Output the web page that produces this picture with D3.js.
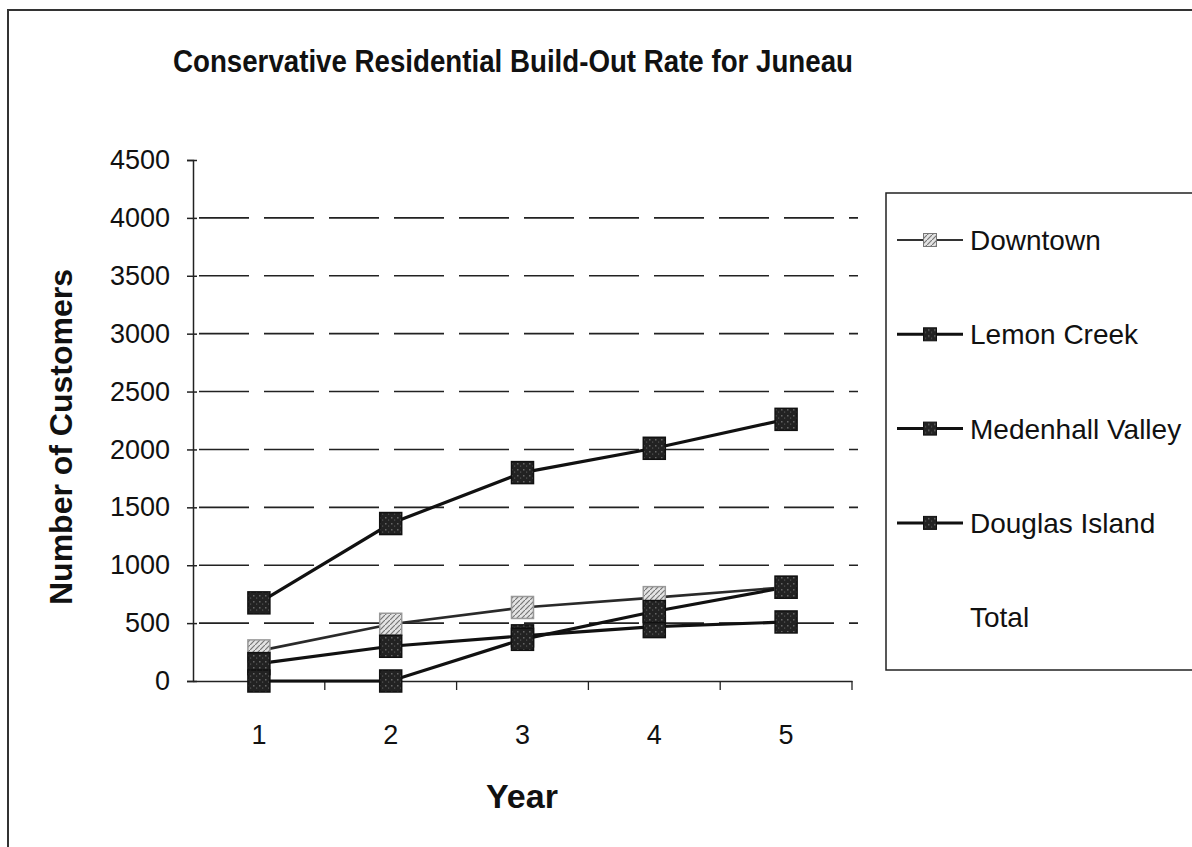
<!DOCTYPE html>
<html>
<head>
<meta charset="utf-8">
<script src="https://cdn.jsdelivr.net/npm/d3@7"></script>
<style>
  html, body { margin: 0; padding: 0; background: #fff; }
  text { font-family: 'Liberation Sans', Arial, sans-serif; fill: #111; }
</style>
</head>
<body>
<div id="chart"></div>
<script>
const width = 1192;
const height = 847;

// data
const years = [1, 2, 3, 4, 5];
const downtown = [260, 490, 635, 720, 810];
const lemonCreek = [150, 300, 390, 470, 510];
const medenhallValley = [675, 1360, 1800, 2010, 2260];
const douglasIsland = [0, 0, 360, 600, 810];
const yTicks = [0, 500, 1000, 1500, 2000, 2500, 3000, 3500, 4000, 4500];
const gridValues = [500, 1000, 1500, 2000, 2500, 3000, 3500, 4000];
const legendNames = ['Downtown', 'Lemon Creek', 'Medenhall Valley', 'Douglas Island', 'Total'];

const series = [
  { name: 'Downtown', values: downtown, light: true },
  { name: 'Lemon Creek', values: lemonCreek, light: false },
  { name: 'Medenhall Valley', values: medenhallValley, light: false },
  { name: 'Douglas Island', values: douglasIsland, light: false }
];

const PLOT_LEFT = 193;
const PLOT_RIGHT = 852;
const PLOT_TOP = 160;
const PLOT_BOTTOM = 681;
const MARKER = 22;
const LEGEND_MARKER = 13;
const FONT = "'Liberation Sans', Arial, sans-serif";

const svg = d3.select('#chart')
  .append('svg')
  .attr('width', width)
  .attr('height', height);

// textures for the scanned-looking markers
const defs = svg.append('defs');
const dark = defs.append('pattern')
  .attr('id', 'dark-tex')
  .attr('width', 6).attr('height', 6)
  .attr('patternUnits', 'userSpaceOnUse');
dark.append('rect').attr('width', 6).attr('height', 6).attr('fill', '#222');
dark.append('rect').attr('x', 1).attr('y', 1).attr('width', 1.5).attr('height', 1.5).attr('fill', '#666');
dark.append('rect').attr('x', 4).attr('y', 3.5).attr('width', 1.2).attr('height', 1.2).attr('fill', '#555');

const light = defs.append('pattern')
  .attr('id', 'light-tex')
  .attr('width', 5).attr('height', 5)
  .attr('patternUnits', 'userSpaceOnUse');
light.append('rect').attr('width', 5).attr('height', 5).attr('fill', '#e4e4e4');
light.append('path').attr('d', 'M0,5 L5,0').attr('stroke', '#777').attr('stroke-width', 1.2);

// outer frame (only left and top edges fall inside the picture)
svg.append('rect')
  .attr('x', 8).attr('y', 10)
  .attr('width', 1200).attr('height', 850)
  .attr('fill', 'none')
  .attr('stroke', '#333')
  .attr('stroke-width', 2);

const x = d3.scaleBand()
  .domain(years)
  .range([PLOT_LEFT, PLOT_RIGHT])
  .padding(0);

const y = d3.scaleLinear()
  .domain([0, 4500])
  .range([PLOT_BOTTOM, PLOT_TOP]);

const cx = (d) => x(d) + x.bandwidth() / 2;

// dashed gridlines
svg.append('g')
  .selectAll('line')
  .data(gridValues)
  .enter().append('line')
    .attr('x1', PLOT_LEFT + 6)
    .attr('x2', 858)
    .attr('y1', (d) => y(d))
    .attr('y2', (d) => y(d))
    .attr('stroke', '#222')
    .attr('stroke-width', 1.6)
    .attr('stroke-dasharray', '50,15');

// y axis
const yAxis = svg.append('g')
  .attr('transform', `translate(${PLOT_LEFT},0)`)
  .call(d3.axisLeft(y).tickValues(yTicks).tickFormat(d3.format('d')).tickSize(6).tickPadding(17));
yAxis.select('.domain').attr('stroke', '#222').attr('stroke-width', 1.5);
yAxis.selectAll('.tick line').attr('x1', 4).attr('stroke', '#222').attr('stroke-width', 1.5);
yAxis.selectAll('.tick text')
  .style('font-size', '27px')
  .style('font-family', FONT)
  .attr('fill', '#111');

// x axis (labels centred in bands, ticks on band edges)
const xAxis = svg.append('g')
  .attr('transform', `translate(0,${PLOT_BOTTOM})`)
  .call(d3.axisBottom(x).tickSize(0).tickPadding(44));
xAxis.select('.domain').attr('stroke', '#222').attr('stroke-width', 1.5);
xAxis.selectAll('.tick text')
  .style('font-size', '27px')
  .style('font-family', FONT)
  .attr('fill', '#111');
xAxis.selectAll('.edge')
  .data(years.map((d) => x(d) + x.bandwidth()))
  .enter().append('line')
    .attr('class', 'edge')
    .attr('x1', (d) => d).attr('x2', (d) => d)
    .attr('y1', 0).attr('y2', 9)
    .attr('stroke', '#222')
    .attr('stroke-width', 1.3);

// lines
const line = d3.line()
  .x((d, i) => cx(years[i]))
  .y((d) => y(d));

svg.append('g')
  .selectAll('path')
  .data(series)
  .enter().append('path')
    .attr('d', (s) => line(s.values))
    .attr('fill', 'none')
    .attr('stroke', (s) => s.light ? '#2a2a2a' : '#111')
    .attr('stroke-width', (s) => s.light ? 2.6 : 3.2);

// markers
series.forEach((s) => {
  svg.append('g')
    .selectAll('rect')
    .data(s.values)
    .enter().append('rect')
      .attr('x', (d, i) => cx(years[i]) - MARKER / 2)
      .attr('y', (d) => y(d) - MARKER / 2)
      .attr('width', MARKER)
      .attr('height', MARKER)
      .attr('fill', s.light ? 'url(#light-tex)' : 'url(#dark-tex)')
      .attr('stroke', s.light ? '#999' : '#111')
      .attr('stroke-width', 1.5);
});

// titles
svg.append('text')
  .attr('x', 513)
  .attr('y', 72)
  .attr('text-anchor', 'middle')
  .style('font-size', '31px')
  .style('font-weight', 'bold')
  .attr('textLength', 680)
  .attr('lengthAdjust', 'spacingAndGlyphs')
  .text('Conservative Residential Build-Out Rate for Juneau');

svg.append('text')
  .attr('transform', 'translate(72,437) rotate(-90)')
  .attr('text-anchor', 'middle')
  .style('font-size', '32px')
  .style('font-weight', 'bold')
  .text('Number of Customers');

svg.append('text')
  .attr('x', 522)
  .attr('y', 808)
  .attr('text-anchor', 'middle')
  .style('font-size', '34px')
  .style('font-weight', 'bold')
  .text('Year');

// legend
svg.append('rect')
  .attr('x', 886).attr('y', 193)
  .attr('width', 330).attr('height', 477)
  .attr('fill', '#fff')
  .attr('stroke', '#222')
  .attr('stroke-width', 1.5);

const legendItem = svg.append('g')
  .selectAll('g')
  .data(legendNames)
  .enter().append('g')
    .attr('transform', (d, i) => `translate(897, ${240 + i * 94.3})`);

legendItem.filter((d, i) => i < series.length)
  .append('line')
    .attr('x1', 0).attr('x2', 66)
    .attr('stroke', (d, i) => i === 0 ? '#333' : '#111')
    .attr('stroke-width', (d, i) => i === 0 ? 2.2 : 3);

legendItem.filter((d, i) => i < series.length)
  .append('rect')
    .attr('x', 33 - LEGEND_MARKER / 2)
    .attr('y', -LEGEND_MARKER / 2)
    .attr('width', LEGEND_MARKER)
    .attr('height', LEGEND_MARKER)
    .attr('fill', (d, i) => i === 0 ? 'url(#light-tex)' : 'url(#dark-tex)')
    .attr('stroke', (d, i) => i === 0 ? '#777' : '#111');

legendItem.append('text')
  .attr('x', 73)
  .attr('y', 10)
  .style('font-size', '28px')
  .text((d) => d);
</script>
</body>
</html>
